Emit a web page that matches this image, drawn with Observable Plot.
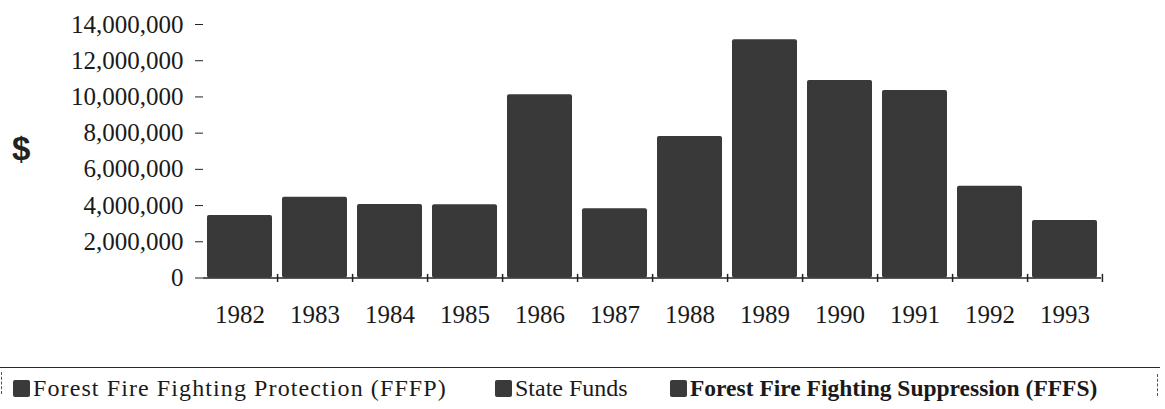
<!DOCTYPE html>
<html>
<head>
<meta charset="utf-8">
<script src="https://cdn.jsdelivr.net/npm/d3@7"></script>
<script src="https://cdn.jsdelivr.net/npm/@observablehq/plot@0.6"></script>
<style>
  html, body { margin: 0; padding: 0; background: #fff; }
  body { width: 1165px; height: 409px; overflow: hidden; position: relative; font-family: "Liberation Serif", "Times New Roman", serif; color: #1a1a1a; }
  #chart { position: absolute; left: 0; top: 0; }
  #dollar { position: absolute; left: 12px; top: 130px; font-family: "Liberation Sans", Arial, sans-serif; font-weight: bold; font-size: 33px; color: #222; }
  #legend { position: absolute; left: 0; top: 367px; width: 1160px; height: 42px; border-top: 1.5px solid #2a2a2a; }
  #legend .item { position: absolute; top: 7px; display: flex; align-items: center; font-size: 24px; white-space: nowrap; }
  #legend .sw { width: 17px; height: 17px; background: #3a3a3a; margin-right: 3px; border-radius: 2px; }
  #legend .vl { position: absolute; width: 1px; height: 22px; border-left: 1.5px dashed #555; }
</style>
</head>
<body>
<div id="chart"></div>
<div id="dollar">$</div>
<div id="legend"></div>
<script>
const years = ["1982","1983","1984","1985","1986","1987","1988","1989","1990","1991","1992","1993"];
const totals = [3450000, 4460000, 4060000, 4040000, 10120000, 3820000, 7820000, 13160000, 10910000, 10360000, 5070000, 3180000];
const yTicks = [0, 2000000, 4000000, 6000000, 8000000, 10000000, 12000000, 14000000];
const seriesNames = ["Forest Fire Fighting Protection (FFFP)", "State Funds", "Forest Fire Fighting Suppression (FFFS)"];
const legendLeft = [13, 495, 670];

const data = years.map((y, i) => ({year: y, total: totals[i]}));
const fmt = d3.format(",");
const step = (1165 - 203 - 64) / 12;

const chart = Plot.plot({
  width: 1165,
  height: 345,
  marginLeft: 203,
  marginRight: 64,
  marginTop: 24,
  marginBottom: 67.5,
  style: {fontFamily: "Liberation Serif, Times New Roman, serif", fontSize: "25px", color: "#1a1a1a", background: "#fff"},
  x: {domain: years, paddingInner: 0.133, paddingOuter: 0.053, label: null},
  y: {domain: [0, 14000000], label: null},
  marks: [
    Plot.barY(data, {x: "year", y: "total", fill: "#393939", rx: 2}),
    Plot.ruleY([0], {stroke: "#222", strokeWidth: 1.5}),
    Plot.ruleX(years.slice(1), {x: d => d, dx: -step / 2, y1: -250000, y2: 200000, stroke: "#222", strokeWidth: 1.5}),
    Plot.ruleX(years.slice(-1), {x: d => d, dx: step / 2, y1: -250000, y2: 200000, stroke: "#222", strokeWidth: 1.5}),
    Plot.axisY({ticks: yTicks, tickFormat: fmt, tickSize: 8, tickPadding: 12, stroke: "#222", fontSize: 25, label: null}),
    Plot.axisX({tickSize: 0, tickPadding: 27, fontSize: 25, label: null})
  ]
});
document.getElementById("chart").appendChild(chart);

const legend = document.getElementById("legend");
seriesNames.forEach((name, i) => {
  const it = document.createElement("div");
  it.className = "item";
  it.style.left = legendLeft[i] + "px";
  if (i === 0) it.style.letterSpacing = "1.1px";
  if (i === 2) { it.style.fontWeight = "bold"; it.style.fontSize = "23.5px"; }
  const sw = document.createElement("span");
  sw.className = "sw";
  const tx = document.createElement("span");
  tx.textContent = name;
  it.appendChild(sw); it.appendChild(tx);
  legend.appendChild(it);
});
[[1, 4], [1157, 6]].forEach(([x, t]) => {
  const v = document.createElement("div");
  v.className = "vl";
  v.style.left = x + "px";
  v.style.top = t + "px";
  legend.appendChild(v);
});
</script>
</body>
</html>
